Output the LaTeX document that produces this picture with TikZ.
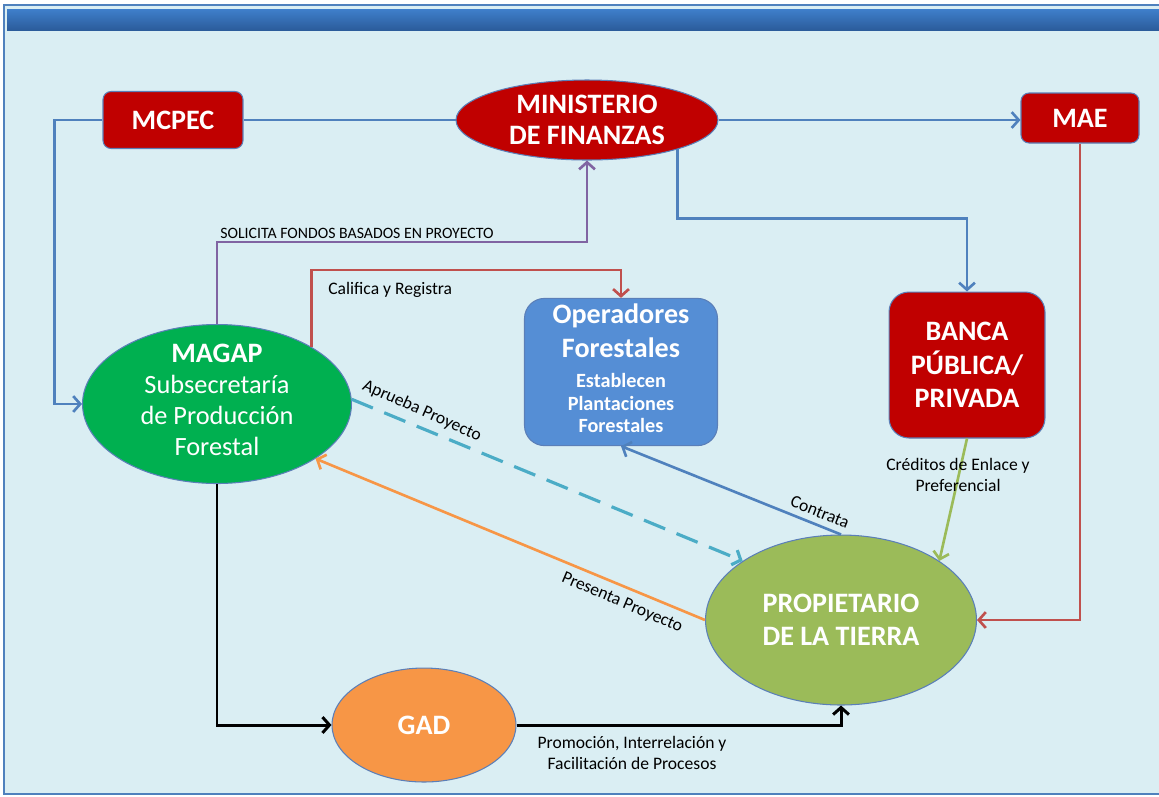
\documentclass[tikz,border=0pt]{standalone}
\usepackage{fontspec}
\setmainfont{Carlito}
\usetikzlibrary{arrows.meta,shapes.geometric}

\definecolor{fondo}{HTML}{DAEEF3}
\definecolor{marco}{HTML}{4F81BD}
\definecolor{banda1}{HTML}{3F7FCB}
\definecolor{banda2}{HTML}{2B5C9B}
\definecolor{borde}{HTML}{5B7FB8}
\definecolor{rojo}{HTML}{C00000}
\definecolor{verde}{HTML}{00B050}
\definecolor{azulop}{HTML}{558ED5}
\definecolor{oliva}{HTML}{9BBB59}
\definecolor{naranja}{HTML}{F79646}
\definecolor{azul}{HTML}{4F81BD}
\definecolor{rojol}{HTML}{C0504D}
\definecolor{morado}{HTML}{8064A2}
\definecolor{celeste}{HTML}{4BACC6}

\begin{document}
\begin{tikzpicture}[x=0.02cm, y=-0.02cm]
	\tikzset{caja/.style = {draw=borde, line width=0.6pt, text=white,
		align=center, font=\bfseries\fontsize{16}{19}\selectfont},
		entidad/.style = {caja, rectangle, fill=rojo},
		ovalo/.style = {caja, ellipse, inner sep=0pt},
		flecha/.style = {line width=1.5pt, -{Straight Barb[length=4pt,width=9pt]}},
		etiqueta/.style = {inner sep=0pt, align=center,
		font=\fontsize{10}{12}\selectfont}}
	
	\useasboundingbox (0,0) rectangle (1159,796);
	\fill[fondo] (4,5) rectangle (1161,794);
	\draw[marco, line width=0.8pt] (1159,5) -- (4,5) -- (4,794) -- (1159,794);
	\fill[top color=banda1, bottom color=banda2] (7,9) rectangle (1159,30);
	
	\node[entidad, rounded corners=0.16cm, minimum width=2.8cm,
	minimum height=1.14cm] (mcpec) at (173,120) {MCPEC};
	\node[ovalo, fill=rojo, minimum width=5.24cm, minimum height=1.6cm,
	font=\bfseries\fontsize{16}{18}\selectfont] (finanzas) at (587,120)
	{MINISTERIO\\DE FINANZAS};
	\node[entidad, rounded corners=0.16cm, minimum width=2.36cm,
	minimum height=1cm] (mae) at (1080,118) {MAE};
	\node[ovalo, fill=verde, minimum width=5.38cm, minimum height=3.18cm,
	inner sep=-4pt] (magap) at (217,404)
	{MAGAP\\[-1pt]\mdseries\fontsize{15}{17.5}\selectfont
	\begin{tabular}[t]{@{}c@{}}Subsecretaría\\de Producción\\Forestal\end{tabular}};
	\node[caja, rectangle, rounded corners=0.4cm, fill=azulop,
	minimum width=3.86cm, minimum height=2.9cm] (operadores) at (621,372)
	{Operadores\\Forestales\\[-2pt]\fontsize{11.5}{13}\selectfont
	\begin{tabular}[t]{@{}c@{}}Establecen\\Plantaciones\\Forestales\end{tabular}};
	\node[entidad, rounded corners=0.4cm, minimum width=3.12cm,
	minimum height=2.92cm] (banca) at (967,365)
	{BANCA\\PÚBLICA/\\PRIVADA};
	\node[ovalo, fill=oliva, minimum width=5.42cm, minimum height=3.4cm]
	(propietario) at (841,620) {PROPIETARIO\\DE LA TIERRA};
	\node[ovalo, fill=naranja, minimum width=3.68cm, minimum height=2.28cm]
	(gad) at (424,725) {GAD};
	
	% conexiones
	\draw[flecha, azul] (mcpec.west) -- ++(-48,0) |- (magap.west);
	\draw[azul, line width=1.5pt] (mcpec.east) -- (finanzas.west);
	\draw[flecha, azul] (finanzas.east) -- (finanzas.east -| mae.west);
	\draw[flecha, azul] (finanzas.-18) -- ++(0,69) -| (banca.north);
	\draw[flecha, rojol] (mae.south) |- (propietario.east);
	\draw[flecha, morado] (magap.north) -- ++(0,-82) -| (finanzas.south);
	\draw[flecha, rojol] (magap.31) -- ++(0,-77) -| (operadores.north);
	\draw[flecha, celeste, line width=1.8pt, dash pattern=on 13pt off 7pt]
	(magap.2) -- (propietario.149);
	\draw[flecha, naranja] (propietario.west) -- (magap.-29);
	\draw[flecha, azul] (propietario.north) -- (operadores.south);
	\draw[flecha, oliva] (banca.south) -- (propietario.31);
	\draw[flecha, black, line width=1.7pt] (magap.south) |- (gad.west);
	\draw[flecha, black, line width=1.7pt] (gad.east) -| (propietario.south);
	
	% textos
	\node[etiqueta, anchor=base west, font=\fontsize{9}{11}\selectfont]
	(lsolicita) at (220,238) {SOLICITA FONDOS BASADOS EN PROYECTO};
	\node[etiqueta, anchor=base west] (lcalifica) at (328,294)
	{Califica y Registra};
	\node[etiqueta, rotate=-24] (laprueba) at (422,411) {Aprueba Proyecto};
	\node[etiqueta, rotate=-23] (lpresenta) at (622,603) {Presenta Proyecto};
	\node[etiqueta, rotate=-22] (lcontrata) at (820,512) {Contrata};
	\node[etiqueta] (lcreditos) at (958,475)
	{Créditos de Enlace y\\Preferencial};
	\node[etiqueta] (lpromocion) at (632,753)
	{Promoción, Interrelación y\\Facilitación de Procesos};
\end{tikzpicture}
\end{document}
